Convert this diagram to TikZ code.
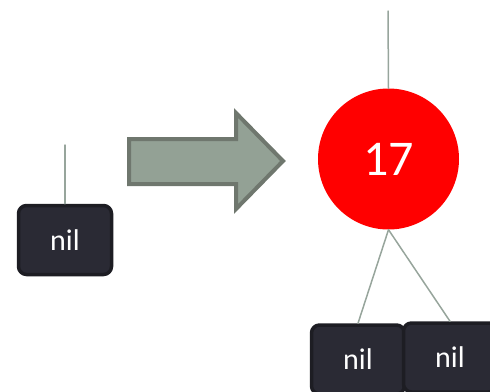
\documentclass[tikz,border=0pt]{standalone}
\usepackage{fontspec}
\setmainfont{Carlito}
\definecolor{nilfill}{HTML}{2A2A34}
\definecolor{nilline}{HTML}{1D1D23}
\definecolor{edgecol}{HTML}{97A59C}
\definecolor{arrfill}{HTML}{93A195}
\definecolor{arrline}{HTML}{6F776E}
\tikzset{
  nilbox/.style={draw=nilline, fill=nilfill, line width=3.5pt, rounded corners=8pt,
    minimum width=93pt, minimum height=69pt, inner sep=0pt, text=white,
    font=\fontsize{30}{30}\selectfont},
  rednode/.style={circle, fill=red, minimum size=141pt, inner sep=0pt, text=white,
    font=\fontsize{50}{50}\selectfont},
  edge/.style={draw=edgecol, line width=1.5pt}
}
\begin{document}
\begin{tikzpicture}[line cap=round, line join=round, x=1pt, y=-1pt]
    \useasboundingbox (0,0) rectangle (490,391);
    \clip (0,0) rectangle (490,391);

    % before
    \coordinate (topA) at (65,145);
    \node[nilbox] (nilA) at (65,240) {nil};
    \draw[edge] (topA) -- (nilA.north);

    % arrow
    \draw[draw=arrline, fill=arrfill, line width=4pt, line join=miter]
        (129,139) -- (236,139) -- (236,113) -- (283,161) -- (236,209)
        -- (236,184) -- (129,184) -- cycle;

    % after
    \coordinate (topB) at (388,11);
    \node[rednode] (red) at (388.5,159) {17};
    \node[nilbox] (nilL) at (358,359.5) {nil};
    \node[nilbox] (nilR) at (450,357.5) {nil};
    \draw[edge] (topB) -- (red.north);
    \draw[edge] (red.south) -- (nilL.north);
    \draw[edge] (red.south) -- (nilR.north);

\end{tikzpicture}
\end{document}
